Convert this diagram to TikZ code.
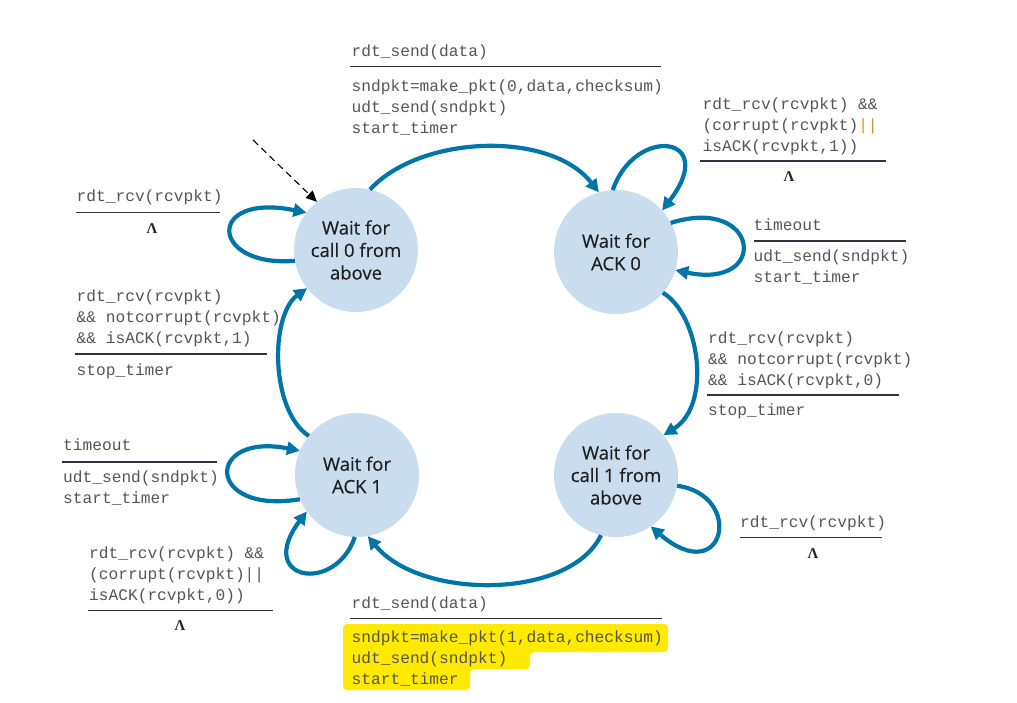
\documentclass[tikz,border=0pt]{standalone}
\usepackage{fontspec}
\setmainfont{Open Sans}
\newfontfamily\mono{Liberation Mono}
\newfontfamily\lamfont{Liberation Serif}
\newfontfamily\statefont[FakeBold=0.35]{Open Sans}
\usetikzlibrary{arrows.meta}
\definecolor{arc}{RGB}{0,118,168}
\definecolor{statefill}{RGB}{201,221,238}
\definecolor{txt}{RGB}{85,85,85}
\definecolor{rulec}{RGB}{50,50,70}
\definecolor{orng}{RGB}{224,140,50}
\definecolor{hl}{RGB}{255,234,0}
\newcommand\mylines[1]{\begin{tabular}[t]{@{}l@{}}#1\end{tabular}}
\begin{document}
\begin{tikzpicture}[x=1pt,y=-1pt,
 state/.style={circle, fill=statefill, minimum size=124pt, inner sep=0pt, outer sep=0pt, align=center, font=\statefont\fontsize{18.5}{22.5}\selectfont, text=black!88},
 tr/.style={line width=4.2pt, draw=arc, -{Triangle[length=13pt,width=13pt]}},
 lbl/.style={font=\mono\fontsize{16.2}{21}\selectfont, text=txt, inner sep=0pt, anchor=base west},
 lam/.style={font=\lamfont\bfseries\fontsize{15}{16}\selectfont, inner sep=0pt, anchor=base, text=black!85},
 sep/.style={draw=rulec, line width=1.4pt}]
\useasboundingbox (0,0) rectangle (1017,702);

% highlight
\fill[hl, rounded corners=4pt] (343,624) -- (668,624) -- (668,652) -- (530,652) -- (530,669) -- (470,669) -- (470,690) -- (343,690) -- cycle;

% states
\node[state] (s0) at (356,250) {Wait for\\call 0 from\\above};
\node[state] (s1) at (616,252) {Wait for\\ACK 0};
\node[state] (s2) at (616,475) {Wait for\\call 1 from\\above};
\node[state] (s3) at (357,475) {Wait for\\ACK 1};

% initial arrow
\coordinate (init) at (253,140);
\draw[black, line width=1.1pt, dash pattern=on 7pt off 4.5pt, -{Triangle[length=11pt,width=10pt]}] (init) -- (s0.129);

% main transitions
\draw[tr] (s0.77) .. controls (420,135) and (550,130) .. (s1.106.5);
\draw[tr] (s1.-41) .. controls (700,315) and (712,405) .. (s2.40);
\draw[tr] (s2.-104) .. controls (570,600) and (420,600) .. (s3.-80);
\draw[tr] (s3.141) .. controls (270,410) and (270,315) .. (s0.218);

% self loops
\draw[tr] (s0.190) .. controls (210,268) and (205,192) .. (s0.143);
\draw[tr] (s1.93) .. controls (635,125) and (720,135) .. (s1.42);
\draw[tr] (s1.28) .. controls (760,195) and (770,290) .. (s1.-17);
\draw[tr] (s2.-10) .. controls (745,495) and (725,590) .. (s2.-56);
\draw[tr] (s3.203) .. controls (205,515) and (205,432) .. (s3.157);
\draw[tr] (s3.268) .. controls (335,595) and (255,580) .. (s3.216);

% top label
\node[lbl] (l1a) at (351.5,56.5) {rdt\_send(data)};
\draw[sep] (350,66.5) -- (661,66.5);
\node[lbl] (l1b) at (351.5,91.5) {\mylines{sndpkt=make\_pkt(0,data,checksum)\\udt\_send(sndpkt)\\start\_timer}};

% top right label
\node[lbl] (l2a) at (702.5,109.5) {\mylines{rdt\_rcv(rcvpkt) \&\&\\(corrupt(rcvpkt){\color{orng}||}\\isACK(rcvpkt,1))}};
\draw[sep] (700,161) -- (886,161);
\node[lam] (l2b) at (789,181) {Λ};

% right timeout
\node[lbl] (l3a) at (753.5,230) {timeout};
\draw[sep] (754,241) -- (906,241);
\node[lbl] (l3b) at (753.5,261.5) {\mylines{udt\_send(sndpkt)\\start\_timer}};

% right middle
\node[lbl] (l4a) at (708,343.5) {\mylines{rdt\_rcv(rcvpkt)\\\&\& notcorrupt(rcvpkt)\\\&\& isACK(rcvpkt,0)}};
\draw[sep] (707,395) -- (899,395);
\node[lbl] (l4b) at (708,415.5) {stop\_timer};

% right lower
\node[lbl] (l5a) at (740,527.5) {rdt\_rcv(rcvpkt)};
\draw[sep] (740,537.5) -- (882,537.5);
\node[lam] (l5b) at (813,558) {Λ};

% left top
\node[lbl] (l6a) at (76.5,201.5) {rdt\_rcv(rcvpkt)};
\draw[sep] (76,212.5) -- (220,212.5);
\node[lam] (l6b) at (152,233) {Λ};

% left middle
\node[lbl] (l7a) at (76.5,301.5) {\mylines{rdt\_rcv(rcvpkt)\\\&\& notcorrupt(rcvpkt)\\\&\& isACK(rcvpkt,1)}};
\draw[sep] (75,354) -- (267,354);
\node[lbl] (l7b) at (76.5,375) {stop\_timer};

% left timeout
\node[lbl] (l8a) at (63,450.5) {timeout};
\draw[sep] (62,462) -- (217,462);
\node[lbl] (l8b) at (63,482.5) {\mylines{udt\_send(sndpkt)\\start\_timer}};

% left lower
\node[lbl] (l9a) at (89,558.5) {\mylines{rdt\_rcv(rcvpkt) \&\&\\(corrupt(rcvpkt)||\\isACK(rcvpkt,0))}};
\draw[sep] (88,610.5) -- (273,610.5);
\node[lam] (l9b) at (180,630.5) {Λ};

% bottom label
\node[lbl] (l10a) at (351.5,608.5) {rdt\_send(data)};
\draw[sep] (350,618.5) -- (661.5,618.5);
\node[lbl] (l10b) at (351.5,642.5) {\mylines{sndpkt=make\_pkt(1,data,checksum)\\udt\_send(sndpkt)\\start\_timer}};
\end{tikzpicture}
\end{document}
